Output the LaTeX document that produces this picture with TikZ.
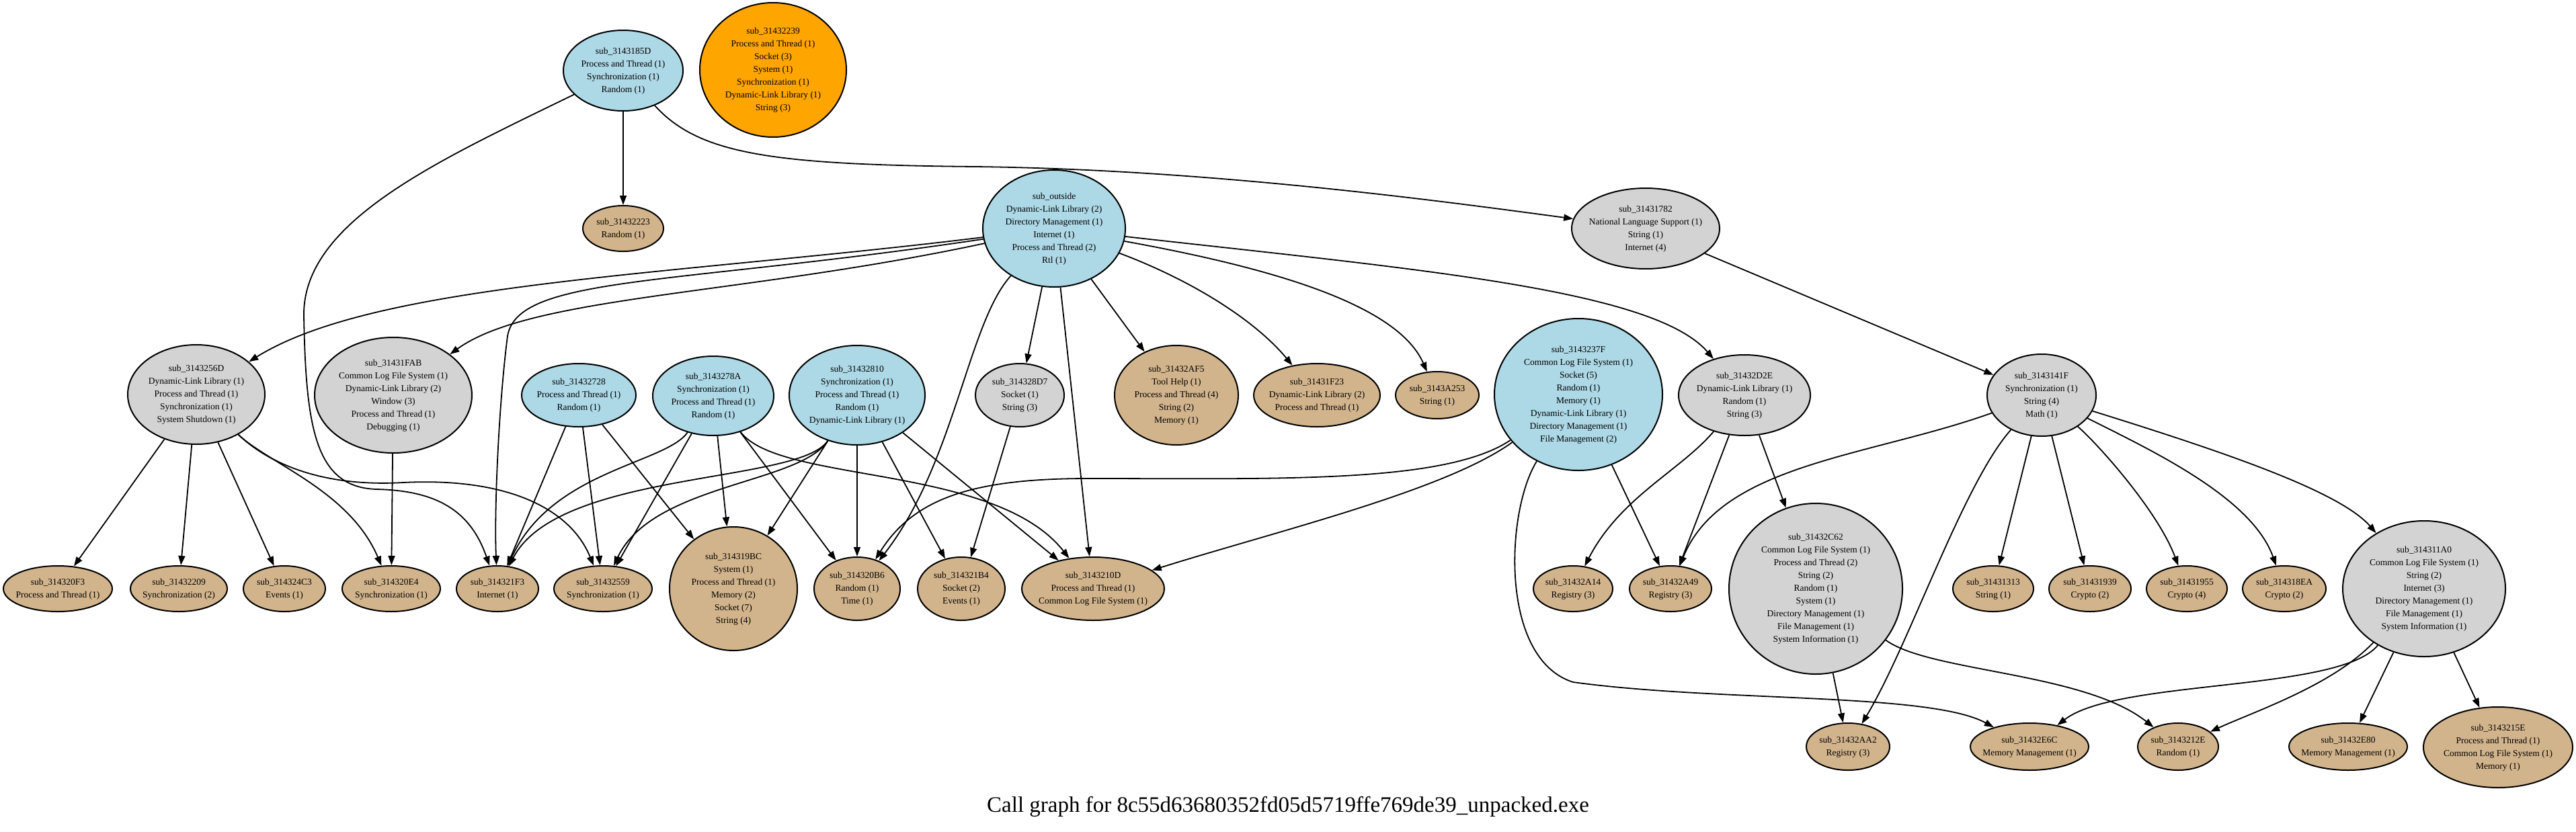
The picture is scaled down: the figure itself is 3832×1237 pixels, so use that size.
\documentclass[tikz,border=0pt]{standalone}
\usepackage{fontspec}
\setmainfont{Liberation Serif}
\usetikzlibrary{shapes.geometric,arrows.meta}
\definecolor{lblue}{HTML}{ADD8E6}
\definecolor{lgray}{HTML}{D3D3D3}
\definecolor{ltan}{HTML}{D2B48C}
\definecolor{lorange}{HTML}{FFA500}
\newcommand{\nlab}[1]{\makebox[0pt]{\begin{tabular}{@{}c@{}}#1\end{tabular}}}
\begin{document}
\begin{tikzpicture}[x=1pt,y=-1pt]
\tikzset{
  fn/.style={ellipse, draw=black, line width=2pt, inner sep=0pt, font=\fontsize{13.5}{19}\selectfont},
  sz/.style 2 args={minimum width=#1pt, minimum height=#2pt},
  cblue/.style={fn, fill=lblue},
  cgray/.style={fn, fill=lgray},
  ctan/.style={fn, fill=ltan},
  corange/.style={fn, fill=lorange},
  conn/.style={line width=1.8pt, -{Triangle[length=14pt,width=10pt]}},
}
\fill[white] (0,0) rectangle (3832,1237);
\path[use as bounding box] (0,0) rectangle (3832,1237);

% top
\node[cblue, sz={178}{120}] (n185D) at (927,105) {\nlab{sub\_3143185D\\Process and Thread (1)\\Synchronization (1)\\Random (1)}};
\node[corange, sz={218}{200}] (n2239) at (1150,104) {\nlab{sub\_31432239\\Process and Thread (1)\\Socket (3)\\System (1)\\Synchronization (1)\\Dynamic-Link Library (1)\\String (3)}};
\node[ctan, sz={120}{68}] (n2223) at (927,340) {\nlab{sub\_31432223\\Random (1)}};
\node[cblue, sz={212}{174}] (nout) at (1568,340) {\nlab{sub\_outside\\Dynamic-Link Library (2)\\Directory Management (1)\\Internet (1)\\Process and Thread (2)\\Rtl (1)}};
\node[cgray, sz={220}{120}] (n1782) at (2448,340) {\nlab{sub\_31431782\\National Language Support (1)\\String (1)\\Internet (4)}};

% row 2
\node[cgray, sz={204}{148}] (n256D) at (292,587) {\nlab{sub\_3143256D\\Dynamic-Link Library (1)\\Process and Thread (1)\\Synchronization (1)\\System Shutdown (1)}};
\node[cgray, sz={234}{172}] (n1FAB) at (585,588) {\nlab{sub\_31431FAB\\Common Log File System (1)\\Dynamic-Link Library (2)\\Window (3)\\Process and Thread (1)\\Debugging (1)}};
\node[cblue, sz={170}{94}] (n2728) at (861,588) {\nlab{sub\_31432728\\Process and Thread (1)\\Random (1)}};
\node[cblue, sz={180}{118}] (n278A) at (1061,589) {\nlab{sub\_3143278A\\Synchronization (1)\\Process and Thread (1)\\Random (1)}};
\node[cblue, sz={202}{148}] (n2810) at (1275,588) {\nlab{sub\_31432810\\Synchronization (1)\\Process and Thread (1)\\Random (1)\\Dynamic-Link Library (1)}};
\node[cgray, sz={132}{94}] (n28D7) at (1517,588) {\nlab{sub\_314328D7\\Socket (1)\\String (3)}};
\node[ctan, sz={184}{148}] (n2AF5) at (1750,588) {\nlab{sub\_31432AF5\\Tool Help (1)\\Process and Thread (4)\\String (2)\\Memory (1)}};
\node[ctan, sz={188}{94}] (n1F23) at (1959,588) {\nlab{sub\_31431F23\\Dynamic-Link Library (2)\\Process and Thread (1)}};
\node[ctan, sz={124}{70}] (nA253) at (2138,588) {\nlab{sub\_3143A253\\String (1)}};
\node[cblue, sz={250}{226}] (n237F) at (2348,587) {\nlab{sub\_3143237F\\Common Log File System (1)\\Socket (5)\\Random (1)\\Memory (1)\\Dynamic-Link Library (1)\\Directory Management (1)\\File Management (2)}};
\node[cgray, sz={196}{120}] (n2D2E) at (2595,588) {\nlab{sub\_31432D2E\\Dynamic-Link Library (1)\\Random (1)\\String (3)}};
\node[cgray, sz={162}{122}] (n141F) at (3037,588) {\nlab{sub\_3143141F\\Synchronization (1)\\String (4)\\Math (1)}};

% row 3
\node[ctan, sz={162}{68}] (n20F3) at (86,876) {\nlab{sub\_314320F3\\Process and Thread (1)}};
\node[ctan, sz={144}{68}] (n2209) at (266,876) {\nlab{sub\_31432209\\Synchronization (2)}};
\node[ctan, sz={122}{68}] (n24C3) at (423,876) {\nlab{sub\_314324C3\\Events (1)}};
\node[ctan, sz={146}{68}] (n20E4) at (582,876) {\nlab{sub\_314320E4\\Synchronization (1)}};
\node[ctan, sz={122}{68}] (n21F3) at (740,876) {\nlab{sub\_314321F3\\Internet (1)}};
\node[ctan, sz={146}{68}] (n2559) at (897,876) {\nlab{sub\_31432559\\Synchronization (1)}};
\node[ctan, sz={190}{184}] (n19BC) at (1091,876) {\nlab{sub\_314319BC\\System (1)\\Process and Thread (1)\\Memory (2)\\Socket (7)\\String (4)}};
\node[ctan, sz={128}{94}] (n20B6) at (1275,876) {\nlab{sub\_314320B6\\Random (1)\\Time (1)}};
\node[ctan, sz={130}{94}] (n21B4) at (1430,876) {\nlab{sub\_314321B4\\Socket (2)\\Events (1)}};
\node[ctan, sz={212}{94}] (n210D) at (1626,876) {\nlab{sub\_3143210D\\Process and Thread (1)\\Common Log File System (1)}};
\node[ctan, sz={118}{68}] (n2A14) at (2340,876) {\nlab{sub\_31432A14\\Registry (3)}};
\node[ctan, sz={122}{68}] (n2A49) at (2485,876) {\nlab{sub\_31432A49\\Registry (3)}};
\node[cgray, sz={258}{254}] (n2C62) at (2701,876) {\nlab{sub\_31432C62\\Common Log File System (1)\\Process and Thread (2)\\String (2)\\Random (1)\\System (1)\\Directory Management (1)\\File Management (1)\\System Information (1)}};
\node[ctan, sz={120}{68}] (n1313) at (2965,876) {\nlab{sub\_31431313\\String (1)}};
\node[ctan, sz={122}{68}] (n1939) at (3109,876) {\nlab{sub\_31431939\\Crypto (2)}};
\node[ctan, sz={120}{68}] (n1955) at (3253,876) {\nlab{sub\_31431955\\Crypto (4)}};
\node[ctan, sz={124}{68}] (n18EA) at (3398,876) {\nlab{sub\_314318EA\\Crypto (2)}};
\node[cgray, sz={242}{202}] (n11A0) at (3606,876) {\nlab{sub\_314311A0\\Common Log File System (1)\\String (2)\\Internet (3)\\Directory Management (1)\\File Management (1)\\System Information (1)}};

% row 4
\node[ctan, sz={124}{70}] (n2AA2) at (2749,1111) {\nlab{sub\_31432AA2\\Registry (3)}};
\node[ctan, sz={176}{70}] (n2E6C) at (3019,1111) {\nlab{sub\_31432E6C\\Memory Management (1)}};
\node[ctan, sz={120}{70}] (n212E) at (3240,1111) {\nlab{sub\_3143212E\\Random (1)}};
\node[ctan, sz={176}{70}] (n2E80) at (3493,1111) {\nlab{sub\_31432E80\\Memory Management (1)}};
\node[ctan, sz={222}{120}] (n215E) at (3716,1112) {\nlab{sub\_3143215E\\Process and Thread (1)\\Common Log File System (1)\\Memory (1)}};

\node (cap) at (1916,1200) {\fontsize{33}{40}\selectfont Call graph for 8c55d63680352fd05d5719ffe769de39\_unpacked.exe};

% edges from 185D
\draw[conn] (n185D) -- (n2223);
\draw[conn] (n185D) .. controls (1040,230) and (1150,245) .. (1450,248) .. controls (1800,252) and (2150,300) .. (n1782);
\draw[conn] (n185D) .. controls (650,240) and (450,330) .. (452,470) .. controls (455,640) and (470,725) .. (560,728) .. controls (650,730) and (700,760) .. (n21F3);

% edges from sub_outside
\draw[conn] (nout) .. controls (1000,410) and (560,420) .. (n256D);
\draw[conn] (nout) .. controls (1100,440) and (790,440) .. (n1FAB);
\draw[conn] (nout) .. controls (1000,425) and (770,410) .. (755,500) .. controls (742,600) and (735,760) .. (n21F3);
\draw[conn] (nout) .. controls (1440,480) and (1420,690) .. (n20B6);
\draw[conn] (nout) -- (n28D7);
\draw[conn] (nout) -- (n210D);
\draw[conn] (nout) -- (n2AF5);
\draw[conn] (nout) .. controls (1780,420) and (1870,480) .. (n1F23);
\draw[conn] (nout) .. controls (1900,400) and (2080,455) .. (nA253);
\draw[conn] (nout) .. controls (2100,400) and (2460,430) .. (n2D2E);

% edges from 256D
\draw[conn] (n256D) -- (n20F3);
\draw[conn] (n256D) -- (n2209);
\draw[conn] (n256D) -- (n24C3);
\draw[conn] (n256D) .. controls (400,690) and (520,730) .. (n20E4);
\draw[conn] (n256D) .. controls (400,690) and (480,725) .. (600,718) .. controls (760,710) and (850,760) .. (n2559);
\draw[conn] (n1FAB) -- (n20E4);

% 2728
\draw[conn] (n2728) -- (n21F3);
\draw[conn] (n2728) -- (n2559);
\draw[conn] (n2728) -- (n19BC);

% 278A
\draw[conn] (n278A) .. controls (990,690) and (820,700) .. (n21F3);
\draw[conn] (n278A) -- (n2559);
\draw[conn] (n278A) -- (n19BC);
\draw[conn] (n278A) -- (n20B6);
\draw[conn] (n278A) .. controls (1160,720) and (1480,690) .. (n210D);

% 2810
\draw[conn] (n2810) .. controls (1190,720) and (830,700) .. (n21F3);
\draw[conn] (n2810) .. controls (1190,720) and (970,720) .. (n2559);
\draw[conn] (n2810) -- (n19BC);
\draw[conn] (n2810) -- (n20B6);
\draw[conn] (n2810) -- (n21B4);
\draw[conn] (n2810) -- (n210D);

\draw[conn] (n28D7) -- (n21B4);

% 237F
\draw[conn] (n237F) .. controls (2150,720) and (1900,712) .. (1620,712) .. controls (1450,712) and (1360,740) .. (n20B6);
\draw[conn] (n237F) .. controls (2150,730) and (1900,790) .. (n210D);
\draw[conn] (n237F) -- (n2A49);
\draw[conn] (n237F) .. controls (2240,760) and (2230,980) .. (2340,1015) .. controls (2560,1045) and (2870,1030) .. (n2E6C);

% 2D2E
\draw[conn] (n2D2E) .. controls (2500,700) and (2410,740) .. (n2A14);
\draw[conn] (n2D2E) -- (n2A49);
\draw[conn] (n2D2E) -- (n2C62);

% 141F
\draw[conn] (n1782) -- (n141F);
\draw[conn] (n141F) .. controls (2780,680) and (2560,690) .. (n2A49);
\draw[conn] (n141F) .. controls (2920,720) and (2840,960) .. (n2AA2);
\draw[conn] (n141F) -- (n1313);
\draw[conn] (n141F) -- (n1939);
\draw[conn] (n141F) .. controls (3120,660) and (3210,760) .. (n1955);
\draw[conn] (n141F) .. controls (3200,670) and (3350,740) .. (n18EA);
\draw[conn] (n141F) .. controls (3300,670) and (3480,730) .. (n11A0);

% 2C62
\draw[conn] (n2C62) -- (n2AA2);
\draw[conn] (n2C62) .. controls (2870,1000) and (3100,1000) .. (n212E);

% 11A0
\draw[conn] (n11A0) .. controls (3480,1030) and (3150,1010) .. (n2E6C);
\draw[conn] (n11A0) .. controls (3470,1020) and (3350,1060) .. (n212E);
\draw[conn] (n11A0) -- (n2E80);
\draw[conn] (n11A0) -- (n215E);
\end{tikzpicture}
\end{document}
